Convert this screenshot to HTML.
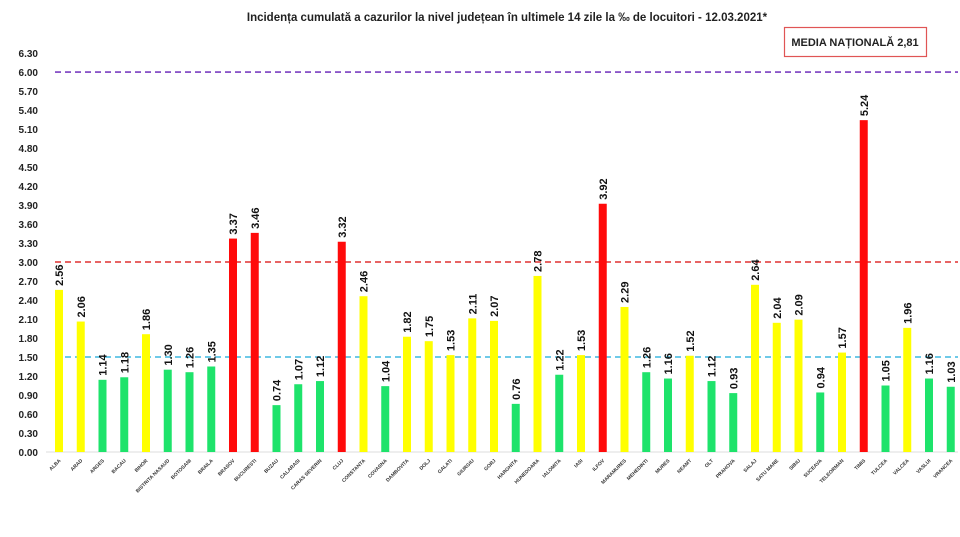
<!DOCTYPE html>
<html><head><meta charset="utf-8"><style>
body{margin:0;background:#fff;}
svg{display:block;font-family:"Liberation Sans",sans-serif;}
</style></head><body>
<svg id="chart" width="960" height="537">
<text x="507" y="21" text-anchor="middle" font-size="11.5" font-weight="bold" fill="#222">Incidența cumulată a cazurilor la nivel județean în ultimele 14 zile la ‰ de locuitori - 12.03.2021*</text>
<g>
<rect x="784.5" y="27.5" width="142" height="29" fill="#fff" stroke="#e05555" stroke-width="1.2"/>
<text x="855" y="46" text-anchor="middle" font-size="11" font-weight="bold" fill="#222">MEDIA NAȚIONALĂ  2,81</text>
</g>
<g id="axis"></g><g id="refs"></g><g id="bars"></g>
</svg>
<script>
const categories=["ALBA","ARAD","ARGES","BACAU","BIHOR","BISTRITA NASAUD","BOTOSANI","BRAILA","BRASOV","BUCURESTI","BUZAU","CALARASI","CARAS SEVERIN","CLUJ","CONSTANTA","COVASNA","DAMBOVITA","DOLJ","GALATI","GIURGIU","GORJ","HARGHITA","HUNEDOARA","IALOMITA","IASI","ILFOV","MARAMURES","MEHEDINTI","MURES","NEAMT","OLT","PRAHOVA","SALAJ","SATU MARE","SIBIU","SUCEAVA","TELEORMAN","TIMIS","TULCEA","VALCEA","VASLUI","VRANCEA"];
const values=[2.56,2.06,1.14,1.18,1.86,1.30,1.26,1.35,3.37,3.46,0.74,1.07,1.12,3.32,2.46,1.04,1.82,1.75,1.53,2.11,2.07,0.76,2.78,1.22,1.53,3.92,2.29,1.26,1.16,1.52,1.12,0.93,2.64,2.04,2.09,0.94,1.57,5.24,1.05,1.96,1.16,1.03];
const yTicks=[0,0.3,0.6,0.9,1.2,1.5,1.8,2.1,2.4,2.7,3.0,3.3,3.6,3.9,4.2,4.5,4.8,5.1,5.4,5.7,6.0,6.3];
const refLines=[6.0,3.0,1.5];
const refColors=["#7a3fc0","#e03030","#3fb8e0"];
const NS="http://www.w3.org/2000/svg";
const y0=452,ppu=63.33,x0=59,step=21.75,bw=8;
const y=v=>y0-v*ppu, x=i=>x0+i*step;
function mk(t,a,p){const e=document.createElementNS(NS,t);for(const k in a)e.setAttribute(k,a[k]);p.appendChild(e);return e;}
const ax=document.getElementById('axis');
mk('line',{x1:46,x2:958,y1:y0,y2:y0,stroke:'#ddd'},ax);
yTicks.forEach(v=>{const t=mk('text',{x:38,y:y(v)+4,'text-anchor':'end','font-size':'10','font-weight':'bold',fill:'#222'},ax);


t.textContent=v.toFixed(2);});
const rf=document.getElementById('refs');
refLines.forEach((v,i)=>{const l=mk('line',{x1:55,x2:958,y1:y(v),y2:y(v),stroke:refColors[i],'stroke-width':'1.6','stroke-dasharray':'6,4'},rf);

});
const bg=document.getElementById('bars');
values.forEach((v,i)=>{const c=v>3?'#ff0a0a':(v>=1.5?'#ffff00':'#1ee36b');
const r=mk('rect',{x:x(i)-bw/2,y:y(v),width:bw,height:v*ppu,fill:c},bg);


const vt=mk('text',{x:0,y:0,transform:`translate(${x(i)+4},${y(v)-4}) rotate(-90)`,'font-size':'11','font-weight':'bold',fill:'#111'},bg);


vt.textContent=v.toFixed(2);
const ct=mk('text',{x:0,y:0,transform:`translate(${x(i)+2},${y0+9}) rotate(-45)`,'text-anchor':'end','font-size':'5','font-weight':'bold',fill:'#333'},bg);


ct.textContent=categories[i];});
</script>
</body></html>
